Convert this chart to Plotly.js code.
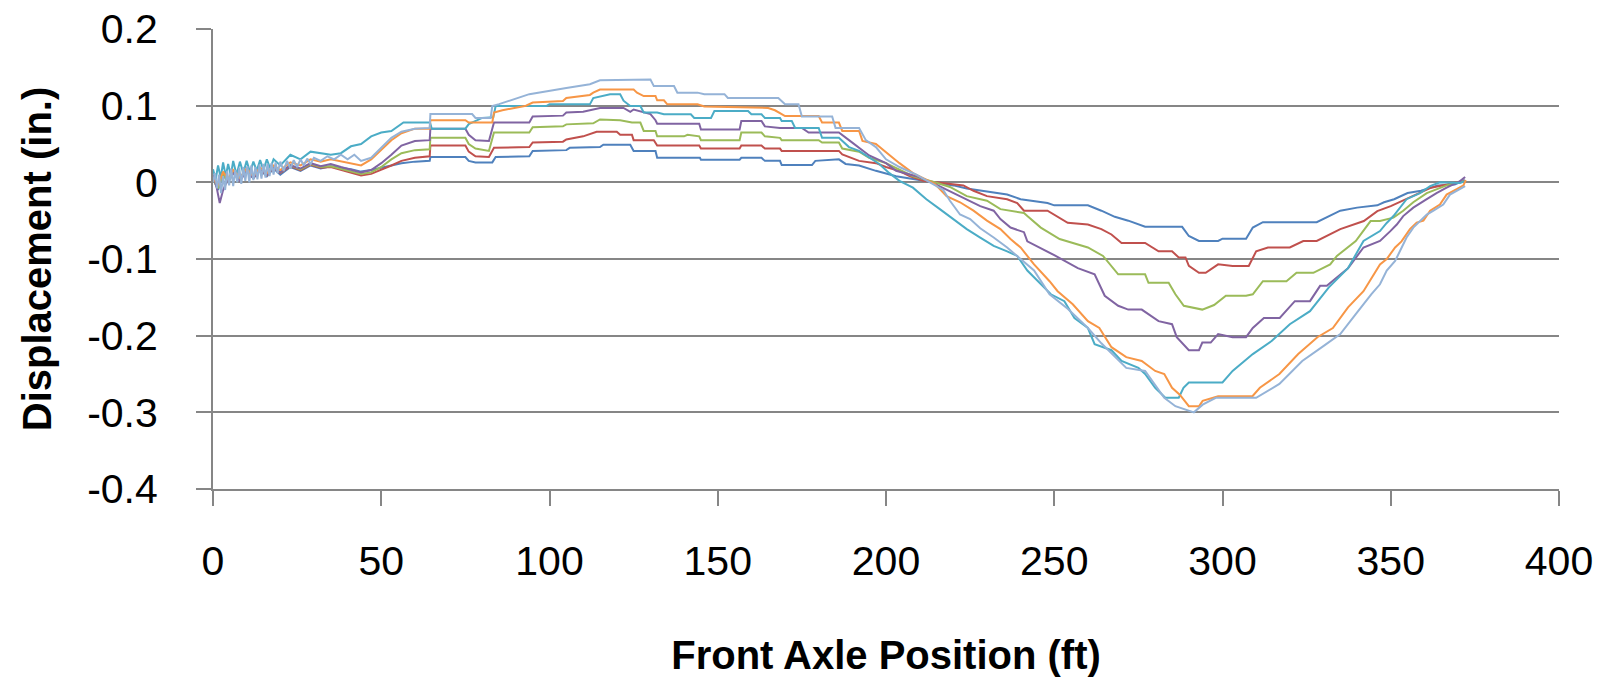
<!DOCTYPE html>
<html>
<head>
<meta charset="utf-8">
<script src="https://cdn.plot.ly/plotly-3.0.1.min.js"></script>
<style>html,body{margin:0;padding:0;background:#fff;}#chart{width:1608px;height:678px;}</style>
</head>
<body>
<div id="chart"></div>
<script>
// Series data as [position ft, displacement in.]
const seriesNames = ["Run 1", "Run 2", "Run 3", "Run 4", "Run 5", "Run 6", "Run 7"];
const seriesColors = ["#4F81BD", "#C0504D", "#9BBB59", "#8064A2", "#4BACC6", "#F79646", "#95B3D7"];

const run1 = [[0,0.005],[1.5,-0.01],[3,0.01],[4.5,0.0],[6,0.012],[8,0.003],[10,0.015],[12,0.005],[14,0.016],[16,0.008],[18,0.018],[20,0.01],[23,0.02],[26,0.015],[29,0.022],[32,0.018],[35,0.021],[38,0.019],[41,0.017],[44,0.014],[47,0.016],[50,0.019],[53,0.022],[56,0.025],[60,0.027],[64.4,0.028],[64.6,0.033],[75,0.033],[76,0.028],[78,0.026],[83,0.026],[84,0.033],[94,0.034],[95,0.041],[105,0.042],[106,0.045],[115,0.046],[116,0.049],[124,0.049],[125,0.041],[131.5,0.041],[132,0.032],[144.7,0.032],[145,0.0295],[156.5,0.0295],[157,0.032],[163,0.032],[164,0.028],[168.5,0.028],[169,0.0225],[178,0.0225],[179,0.028],[186,0.03],[188,0.024],[192,0.022],[197,0.015],[203,0.008],[209,0.004],[214,0.0],[220,-0.004],[224,-0.008],[230,-0.012],[236,-0.016],[240,-0.022],[248,-0.027],[250,-0.03],[260,-0.03],[264,-0.037],[268,-0.045],[272,-0.05],[277,-0.058],[288,-0.058],[290,-0.07],[293,-0.0765],[298.7,-0.0765],[300,-0.0735],[307,-0.0735],[309,-0.059],[312,-0.052],[328,-0.052],[335,-0.037],[340,-0.033],[346,-0.03],[348,-0.026],[351,-0.022],[355,-0.014],[359,-0.011],[364,-0.004],[369,-0.003],[372,0.003]];

const run2 = [[0,0.008],[1.5,-0.005],[3,0.012],[4.5,0.002],[6,0.014],[8,0.004],[10,0.016],[12,0.006],[14,0.017],[16,0.009],[18,0.019],[20,0.012],[23,0.021],[26,0.016],[29,0.023],[32,0.019],[35,0.02],[38,0.016],[41,0.012],[44,0.009],[47,0.011],[50,0.016],[53,0.022],[56,0.028],[60,0.032],[64.4,0.034],[64.6,0.048],[75,0.048],[76,0.04],[78,0.034],[82,0.033],[83.5,0.045],[94,0.046],[95,0.052],[104,0.053],[105,0.056],[110,0.06],[114,0.066],[120,0.066],[121,0.062],[124.5,0.062],[125,0.055],[131,0.055],[132,0.048],[144.5,0.048],[145,0.044],[156.5,0.044],[157,0.048],[163,0.048],[164,0.044],[168.5,0.044],[169,0.041],[186,0.041],[187,0.0365],[190,0.032],[192,0.028],[197,0.025],[200,0.02],[204,0.0147],[207,0.008],[211,0.002],[218,-0.001],[223,-0.004],[226,-0.011],[230,-0.018],[236,-0.022],[239,-0.027],[241,-0.037],[248,-0.037],[254,-0.0527],[260,-0.055],[264,-0.061],[267,-0.068],[270,-0.079],[277,-0.079],[281,-0.09],[285,-0.09],[287,-0.098],[289,-0.098],[290,-0.109],[293,-0.118],[295,-0.118],[298.7,-0.107],[303,-0.109],[307.8,-0.109],[310,-0.09],[313.5,-0.085],[320,-0.085],[324,-0.0765],[328,-0.0765],[335,-0.061],[342,-0.0505],[346,-0.0375],[350,-0.031],[353,-0.025],[358,-0.016],[362,-0.007],[367,-0.0026],[372,0.002]];

const run3 = [[0,0.004],[1.5,-0.008],[3,0.011],[4.5,0.0],[6,0.013],[8,0.005],[10,0.017],[12,0.007],[14,0.018],[16,0.01],[18,0.02],[20,0.013],[23,0.022],[26,0.017],[29,0.024],[32,0.02],[35,0.021],[38,0.018],[41,0.014],[44,0.011],[47,0.013],[50,0.02],[53,0.03],[56,0.038],[60,0.042],[64.4,0.043],[64.6,0.058],[75,0.058],[76,0.05],[78,0.044],[82,0.041],[83.5,0.065],[94,0.065],[95,0.072],[104,0.073],[105,0.0756],[113,0.077],[115,0.082],[121,0.081],[124.5,0.078],[127,0.078],[128,0.067],[131.5,0.067],[132,0.06],[140,0.06],[141,0.062],[144.5,0.06],[145,0.055],[156.5,0.055],[157,0.065],[163,0.065],[164,0.06],[168.5,0.058],[169,0.055],[180,0.055],[181,0.052],[186,0.052],[187,0.044],[192,0.04],[195,0.032],[200,0.025],[204,0.016],[208,0.008],[214.5,0.0],[219,-0.006],[224,-0.018],[230,-0.024],[234,-0.035],[241,-0.04],[242,-0.044],[246,-0.059],[251.6,-0.074],[260,-0.085],[264.5,-0.096],[269,-0.12],[277,-0.12],[278,-0.131],[284,-0.131],[286,-0.146],[288.5,-0.161],[294,-0.166],[297.5,-0.16],[301,-0.148],[307,-0.148],[309,-0.146],[312,-0.129],[319,-0.129],[322,-0.118],[327,-0.118],[332,-0.107],[334,-0.096],[339.6,-0.0765],[344,-0.0505],[346.8,-0.0505],[350.8,-0.046],[353.7,-0.037],[356.7,-0.026],[360.7,-0.014],[366.6,-0.004],[371.6,0.002]];

const run4 = [[0,0.01],[1,-0.005],[2,-0.027],[3,-0.01],[4.5,0.005],[6,0.012],[8,0.002],[10,0.015],[12,0.006],[14,0.017],[16,0.01],[18,0.02],[20,0.013],[23,0.022],[26,0.018],[29,0.025],[32,0.021],[35,0.024],[38,0.02],[41,0.016],[44,0.013],[47,0.016],[50,0.025],[53,0.036],[56,0.048],[60,0.054],[64.4,0.055],[64.6,0.07],[75,0.07],[76,0.062],[78,0.055],[82,0.054],[83.5,0.078],[94,0.078],[95,0.086],[104,0.087],[105,0.091],[110,0.092],[115,0.097],[122,0.097],[124,0.092],[125,0.095],[128,0.091],[130,0.089],[131.5,0.081],[132,0.0765],[144.5,0.0765],[145,0.069],[156.5,0.069],[157,0.08],[163,0.08],[164,0.073],[168.5,0.071],[175,0.071],[177,0.065],[186,0.065],[189,0.055],[192,0.045],[195,0.035],[200,0.025],[203,0.015],[209,0.008],[214.5,-0.002],[221,-0.016],[225,-0.024],[228,-0.031],[232,-0.037],[234,-0.048],[237,-0.059],[241,-0.065],[242,-0.077],[246.7,-0.087],[250,-0.095],[257,-0.112],[262,-0.12],[265,-0.148],[269,-0.161],[272,-0.166],[276,-0.166],[281,-0.181],[285,-0.185],[286.4,-0.202],[290,-0.219],[293,-0.219],[294,-0.209],[296.5,-0.209],[298.7,-0.198],[303,-0.202],[307,-0.202],[309,-0.19],[312.3,-0.177],[317,-0.177],[321.5,-0.155],[326,-0.155],[329,-0.135],[331,-0.135],[337.3,-0.112],[341.9,-0.085],[346.8,-0.0765],[349.8,-0.064],[351.8,-0.055],[353.7,-0.044],[356.7,-0.033],[360.7,-0.022],[363.6,-0.014],[366.6,-0.007],[370.6,0.0017],[372.1,0.007]];

const run5 = [[0,0.017],[0.8,0.004],[1.5,0.022],[2.3,0.006],[3,0.026],[3.8,0.008],[4.5,0.024],[5.3,0.009],[6,0.028],[7,0.01],[8,0.027],[9,0.012],[10,0.028],[11,0.013],[12,0.027],[13,0.015],[14,0.029],[15,0.016],[16,0.03],[17,0.018],[18,0.03],[20,0.022],[23,0.036],[26,0.03],[29,0.04],[32,0.038],[35,0.036],[38,0.038],[41,0.047],[44,0.05],[47,0.06],[50,0.065],[53,0.067],[56.6,0.078],[64.5,0.078],[65,0.07],[75,0.07],[76,0.076],[80,0.084],[83.3,0.085],[84,0.0995],[99,0.0995],[100,0.1017],[112,0.1017],[113,0.11],[118,0.115],[121,0.115],[122,0.1065],[124,0.0995],[127,0.0995],[128,0.091],[132,0.091],[134,0.0887],[142,0.0887],[143,0.084],[148,0.084],[149,0.093],[159,0.093],[160,0.0887],[163,0.0887],[164,0.084],[168.5,0.084],[169,0.08],[172,0.08],[173,0.071],[180,0.071],[181,0.058],[186,0.058],[189,0.046],[192,0.041],[194,0.035],[198,0.024],[201,0.012],[204,0.002],[208,-0.007],[212,-0.022],[216,-0.035],[220,-0.048],[224,-0.061],[228,-0.072],[232,-0.083],[236,-0.09],[239,-0.096],[242,-0.115],[246,-0.133],[249,-0.146],[253,-0.155],[256,-0.177],[260,-0.19],[262,-0.211],[267,-0.219],[270,-0.233],[275,-0.242],[277,-0.25],[280,-0.268],[283,-0.281],[287,-0.281],[288.4,-0.268],[290,-0.261],[300,-0.261],[303,-0.246],[309,-0.224],[314.6,-0.207],[320,-0.185],[326,-0.168],[331.6,-0.137],[337.3,-0.112],[341.9,-0.0765],[346.8,-0.0636],[348.8,-0.053],[350.8,-0.044],[352.7,-0.033],[354.7,-0.022],[358.7,-0.014],[361.7,-0.005],[364.6,0.0],[370.6,-0.001],[372.3,0.002]];

const run6 = [[0,0.006],[1.5,-0.004],[3,0.014],[4.5,0.004],[6,0.016],[8,0.006],[10,0.018],[12,0.008],[14,0.019],[16,0.012],[18,0.022],[20,0.016],[23,0.026],[26,0.022],[29,0.03],[32,0.027],[35,0.03],[38,0.027],[41,0.024],[44,0.022],[47,0.03],[50,0.042],[53,0.055],[56,0.064],[60,0.07],[64.4,0.07],[64.6,0.081],[75,0.081],[76,0.078],[83,0.078],[83.5,0.091],[86,0.094],[93,0.1],[95,0.104],[104,0.106],[105,0.11],[112,0.114],[113,0.117],[115,0.121],[125,0.121],[126,0.117],[128,0.1125],[131.5,0.1125],[132,0.107],[134,0.107],[135,0.1017],[144,0.1017],[146,0.099],[157,0.098],[165,0.097],[167,0.094],[170,0.0864],[180,0.0864],[181,0.078],[186,0.078],[187,0.067],[192,0.067],[193,0.054],[197,0.05],[201,0.035],[204,0.025],[208,0.012],[214.5,-0.002],[218,-0.018],[222,-0.026],[226,-0.037],[230,-0.05],[234,-0.061],[237,-0.074],[240,-0.085],[244,-0.107],[248.6,-0.129],[251,-0.142],[255.5,-0.159],[260,-0.181],[263.4,-0.19],[267,-0.215],[271.4,-0.228],[276,-0.233],[280,-0.246],[282.7,-0.25],[285,-0.268],[287.3,-0.277],[290,-0.292],[293,-0.292],[294.1,-0.285],[298.7,-0.279],[308.9,-0.279],[311.1,-0.268],[316.9,-0.25],[322.5,-0.224],[328.2,-0.202],[332.8,-0.19],[337.3,-0.163],[341.9,-0.142],[346.8,-0.107],[348.8,-0.1],[351.3,-0.085],[353.2,-0.077],[355.7,-0.061],[357.7,-0.0525],[359.7,-0.05],[361.7,-0.037],[364.6,-0.029],[366.6,-0.016],[369.6,-0.009],[371.6,-0.004],[372.3,0.003]];

const run7 = [[0,0.0],[0.6,0.012],[1.2,-0.008],[1.8,0.01],[2.4,-0.014],[3,0.008],[3.6,-0.01],[4.2,0.015],[4.8,-0.004],[5.4,0.018],[6,-0.005],[6.6,0.016],[7.2,0.0],[7.8,0.019],[8.4,-0.002],[9,0.02],[9.6,0.002],[10.2,0.021],[10.8,0.0],[11.4,0.022],[12,0.003],[12.6,0.02],[13.2,0.004],[13.8,0.023],[14.4,0.005],[15,0.024],[15.6,0.006],[16.2,0.024],[16.8,0.008],[17.4,0.025],[18,0.01],[18.6,0.026],[19.2,0.012],[20,0.027],[21,0.015],[22,0.028],[23,0.018],[24,0.029],[25,0.02],[26,0.03],[27,0.022],[28,0.031],[29,0.024],[30,0.032],[32,0.028],[34,0.034],[36,0.03],[38,0.036],[40,0.03],[42,0.036],[44,0.028],[47,0.032],[50,0.045],[53,0.058],[56,0.066],[60,0.07],[64.4,0.071],[64.6,0.089],[77,0.089],[78,0.084],[82.5,0.084],[83,0.0995],[85,0.102],[94,0.115],[105,0.123],[112,0.128],[115,0.133],[125,0.134],[130,0.134],[131,0.1255],[137,0.1255],[138,0.117],[144,0.117],[146,0.115],[152,0.115],[153,0.11],[168,0.11],[170,0.102],[174,0.102],[175,0.086],[184,0.086],[185,0.071],[192,0.071],[194,0.055],[197,0.046],[200,0.03],[204,0.02],[209,0.01],[214.5,-0.004],[217,-0.01],[219,-0.024],[222,-0.042],[225,-0.048],[228,-0.06],[232,-0.072],[236,-0.085],[240,-0.1],[244,-0.115],[248.6,-0.146],[254,-0.165],[260,-0.19],[264,-0.21],[271.4,-0.242],[277,-0.246],[282.7,-0.281],[286,-0.292],[291.5,-0.3],[294.1,-0.29],[298,-0.281],[310,-0.281],[316.9,-0.263],[323.7,-0.233],[330.5,-0.212],[335,-0.198],[339.6,-0.172],[344.2,-0.146],[346.8,-0.133],[348.8,-0.115],[351.3,-0.1026],[352.7,-0.09],[354.7,-0.072],[356.7,-0.059],[360.7,-0.042],[362.7,-0.037],[365.6,-0.029],[367.6,-0.016],[370.6,-0.009],[372.1,-0.005]];

const yTickVals = [0.2, 0.1, 0, -0.1, -0.2, -0.3, -0.4];
const yTickText = ["0.2", "0.1", "0", "-0.1", "-0.2", "-0.3", "-0.4"];
const xTickVals = [0, 50, 100, 150, 200, 250, 300, 350, 400];

const allRuns = [run1, run2, run3, run4, run5, run6, run7];
const traces = allRuns.map((run, i) => ({
  type: "scatter",
  mode: "lines",
  name: seriesNames[i],
  x: run.map(p => p[0]),
  y: run.map(p => p[1]),
  line: {color: seriesColors[i], width: 2},
  showlegend: false,
  hoverinfo: "x+y"
}));

const gray = "#868686";
const tickFont = {family: "Liberation Sans, Arial, sans-serif", size: 41, color: "#000"};
const titleFont = {family: "Liberation Sans, Arial, sans-serif", size: 40, color: "#000", weight: "bold"};

const layout = {
  width: 1608,
  height: 678,
  margin: {l: 213, r: 49, t: 29, b: 189},
  paper_bgcolor: "#fff",
  plot_bgcolor: "#fff",
  showlegend: false,
  xaxis: {
    range: [0, 400],
    tickvals: xTickVals,
    showgrid: false,
    zeroline: false,
    showline: true,
    linecolor: gray,
    linewidth: 2,
    ticks: "outside",
    ticklen: 15,
    tickwidth: 2,
    tickcolor: gray,
    tickfont: tickFont,
    ticklabelstandoff: 20,
    title: {text: "Front Axle Position (ft)", font: titleFont, standoff: 58}
  },
  yaxis: {
    range: [-0.4, 0.2],
    tickvals: yTickVals,
    ticktext: yTickText,
    showgrid: true,
    gridcolor: gray,
    gridwidth: 2,
    zeroline: false,
    showline: true,
    linecolor: gray,
    linewidth: 2,
    ticks: "outside",
    ticklen: 15,
    tickwidth: 2,
    tickcolor: gray,
    tickfont: tickFont,
    ticklabelstandoff: 30,
    title: {text: "Displacement (in.)", font: titleFont, standoff: 23}
  }
};

Plotly.newPlot("chart", traces, layout, {displayModeBar: false, staticPlot: true});
</script>
</body>
</html>
